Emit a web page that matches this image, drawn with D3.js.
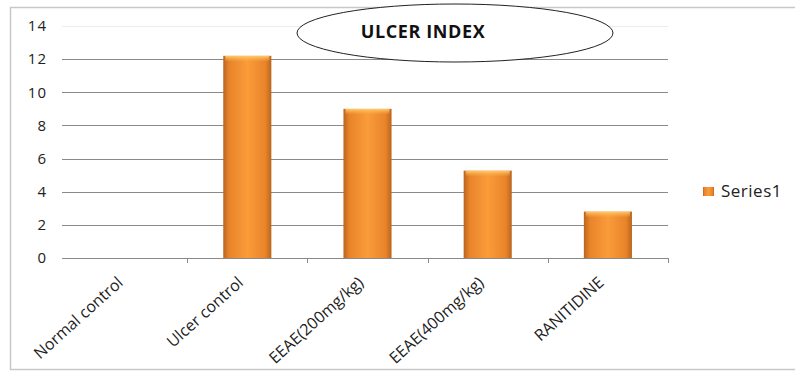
<!DOCTYPE html>
<html>
<head>
<meta charset="utf-8">
<script src="https://cdn.jsdelivr.net/npm/d3@7"></script>
<style>
  body { margin: 0; background: #fff; }
  svg { display: block; }
</style>
</head>
<body>
<svg id="chart"></svg>
<script>
// Ulcer index bar chart

const categories = ["Normal control", "Ulcer control", "EEAE(200mg/kg)", "EEAE(400mg/kg)", "RANITIDINE"];
const values = [0, 12.2, 9.0, 5.27, 2.8];
const yTicks = [0, 2, 4, 6, 8, 10, 12, 14];
const seriesName = "Series1";
const title = "ULCER INDEX";

const width = 795, height = 373;
const plotLeft = 62, plotRight = 668, plotTop = 26, plotBottom = 258;

const svg = d3.select("#chart")
    .attr("width", width)
    .attr("height", height)
    .style("font-family", "'Open Sans', sans-serif");

// outer frame
svg.append("rect")
    .attr("x", 10.5).attr("y", 7.5)
    .attr("width", 800).attr("height", 362)
    .attr("fill", "none")
    .attr("stroke", "#c8c8c8")
    .attr("stroke-width", 1.5);

const x = d3.scaleBand()
    .domain(categories)
    .range([67, plotRight])
    .paddingInner(0.6)
    .paddingOuter(0.3);

const y = d3.scaleLinear()
    .domain([0, 14])
    .range([plotBottom, plotTop]);

// gradients
const defs = svg.append("defs");
const g1 = defs.append("linearGradient").attr("id", "barH")
    .attr("x1", "0").attr("x2", "1").attr("y1", "0").attr("y2", "0");
[["0%", "#b8651f"], ["12%", "#e8832a"], ["50%", "#fa9c3a"], ["88%", "#e8832a"], ["100%", "#b8651f"]]
  .forEach(([o, c]) => g1.append("stop").attr("offset", o).attr("stop-color", c));
const g2 = defs.append("linearGradient").attr("id", "barTop")
    .attr("x1", "0").attr("x2", "0").attr("y1", "0").attr("y2", "1");
g2.append("stop").attr("offset", "0%").attr("stop-color", "#ffd070").attr("stop-opacity", 0.95);
g2.append("stop").attr("offset", "100%").attr("stop-color", "#ffb050").attr("stop-opacity", 0);

// gridlines
svg.append("g")
  .selectAll("line")
  .data(yTicks.filter(d => d > 0))
  .join("line")
    .attr("x1", plotLeft).attr("x2", plotRight)
    .attr("y1", d => Math.round(y(d)) + 0.5)
    .attr("y2", d => Math.round(y(d)) + 0.5)
    .attr("stroke", d => d === 14 ? "#ececec" : "#8a8a8a")
    .attr("stroke-width", 1);

// y labels
svg.append("g")
  .selectAll("text")
  .data(yTicks)
  .join("text")
    .attr("x", 47)
    .attr("y", d => y(d))
    .attr("dy", "0.35em")
    .attr("text-anchor", "end")
    .attr("font-size", 15)
    .attr("letter-spacing", 1)
    .attr("fill", "#222")
    .text(d => d);

// bars
const bars = svg.append("g")
  .selectAll("g")
  .data(values.map((v, i) => ({ cat: categories[i], v })))
  .join("g");

bars.append("rect")
    .attr("x", d => x(d.cat))
    .attr("y", d => y(d.v))
    .attr("width", x.bandwidth())
    .attr("height", d => y(0) - y(d.v))
    .attr("fill", "url(#barH)");

bars.filter(d => d.v > 0).append("rect")
    .attr("x", d => x(d.cat) + 2)
    .attr("y", d => y(d.v))
    .attr("width", x.bandwidth() - 4)
    .attr("height", 6)
    .attr("fill", "url(#barTop)");

// x axis line and ticks
svg.append("line")
    .attr("x1", plotLeft).attr("x2", plotRight)
    .attr("y1", plotBottom + 0.5).attr("y2", plotBottom + 0.5)
    .attr("stroke", "#8a8a8a");

const step = x.step();
svg.append("g")
  .selectAll("line")
  .data(categories)
  .join("line")
    .attr("x1", d => Math.round(x(d) - x.bandwidth() * 0.75 + step) + 0.5)
    .attr("x2", d => Math.round(x(d) - x.bandwidth() * 0.75 + step) + 0.5)
    .attr("y1", plotBottom)
    .attr("y2", plotBottom + 5)
    .attr("stroke", "#8a8a8a");

// x labels
svg.append("g")
  .selectAll("text")
  .data(categories)
  .join("text")
    .attr("transform", d => `translate(${x(d) + x.bandwidth() / 2 - 3},${plotBottom + 26}) rotate(-42)`)
    .attr("text-anchor", "end")
    .attr("font-size", 16)
    .attr("fill", "#222")
    .text(d => d);

// title ellipse
svg.append("ellipse")
    .attr("cx", 455).attr("cy", 33)
    .attr("rx", 158).attr("ry", 29)
    .attr("fill", "#fff")
    .attr("stroke", "#222")
    .attr("stroke-width", 1);

svg.append("text")
    .attr("x", 423).attr("y", 38)
    .attr("text-anchor", "middle")
    .attr("font-size", 18)
    .attr("letter-spacing", 0.6)
    .attr("font-weight", "bold")
    .attr("fill", "#111")
    .text(title);

// legend
svg.append("rect")
    .attr("x", 703).attr("y", 187)
    .attr("width", 11).attr("height", 9)
    .attr("fill", "url(#barH)");

svg.append("text")
    .attr("x", 721).attr("y", 197)
    .attr("font-size", 17)
    .attr("letter-spacing", 0.5)
    .attr("fill", "#222")
    .text(seriesName);
</script>
</body>
</html>
